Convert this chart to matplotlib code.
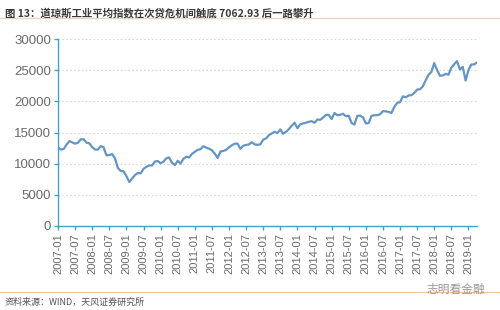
import matplotlib.pyplot as plt
import numpy as np

plt.rcParams['font.family'] = ['Noto Sans CJK SC', 'DejaVu Sans']

# Dow Jones Industrial Average, monthly close, 2007-01 .. 2019-04
djia = [
    12622, 12268, 12354, 13062, 13627, 13408, 13211, 13357, 13895, 13930, 13371, 13264,
    12650, 12266, 12262, 12820, 12638, 11350, 11378, 11543, 10851, 9325, 8829, 8776,
    8001, 7063, 7609, 8168, 8500, 8447, 9172, 9496, 9712, 9713, 10345, 10428,
    10067, 10325, 10857, 11009, 10137, 9774, 10466, 10015, 10788, 11118, 11006, 11578,
    11892, 12226, 12320, 12811, 12570, 12414, 12143, 11614, 10913, 11955, 12046, 12218,
    12633, 12952, 13212, 13214, 12393, 12880, 13009, 13091, 13437, 13096, 13026, 13104,
    13861, 14054, 14579, 14840, 15116, 14910, 15500, 14810, 15130, 15546, 16086, 16577,
    15699, 16322, 16458, 16581, 16717, 16827, 16563, 17098, 17043, 17391, 17828, 17823,
    17165, 18133, 17776, 17841, 18011, 17620, 17690, 16528, 16285, 17664, 17720, 17425,
    16466, 16517, 17685, 17774, 17787, 17930, 18432, 18401, 18308, 18142, 19124, 19763,
    19864, 20812, 20663, 20941, 21009, 21350, 21891, 21948, 22405, 23377, 24272, 24719,
    26149, 25029, 24103, 24163, 24416, 24271, 25415, 25965, 26458, 25116, 25538, 23327,
    24999, 25916, 25929, 26250,
]
start_year = 2007
tick_labels = [f"{start_year + i // 2}-{'01' if i % 2 == 0 else '07'}" for i in range(25)]
y_ticks = [0, 5000, 10000, 15000, 20000, 25000, 30000]

title = "图 13：道琼斯工业平均指数在次贷危机间触底 7062.93 后一路攀升"
source = "资料来源：WIND，天风证券研究所"
watermark = "志明看金融"

line_color = "#6396c6"
axis_color = "#3ea6c0"
text_color = "#6a6a6a"

fig = plt.figure(figsize=(5, 3.1), dpi=100)
ax = fig.add_axes([0.116, 0.271, 0.838, 0.603])

x = np.arange(len(djia))
ax.plot(x, djia, color=line_color, linewidth=1.6)

ax.set_xlim(0, len(djia) - 1)
ax.set_ylim(0, 30000)
ax.set_yticks(y_ticks)
ax.set_yticklabels([str(v) for v in y_ticks], fontsize=9.5, color=text_color,
                   family=['Liberation Sans', 'DejaVu Sans'])
ax.set_xticks(np.arange(0, 25) * 6)
ax.set_xticklabels(tick_labels, rotation=90, fontsize=8, color=text_color,
                   family=['Liberation Sans', 'DejaVu Sans'])

ax.grid(axis='y', linestyle=(0, (1.5, 2)), color='#d8d8d8', linewidth=0.8)
ax.set_axisbelow(True)
for side in ['top', 'right']:
    ax.spines[side].set_visible(False)
for side in ['left', 'bottom']:
    ax.spines[side].set_color(axis_color)
    ax.spines[side].set_linewidth(1.0)
ax.tick_params(axis='both', colors=axis_color, length=3, width=1.0, pad=2)
ax.tick_params(axis='both', labelcolor=text_color)

fig.text(0.01, 0.975, title, fontsize=7.5, fontweight='bold', color='#3a3a3a',
         va='top', ha='left')
fig.add_artist(plt.Line2D([0, 1], [0.943, 0.943], color='#e8d8c0', linewidth=1.0,
                          transform=fig.transFigure))
fig.add_artist(plt.Line2D([0, 1], [0.058, 0.058], color='#e8c8a8', linewidth=0.8,
                          transform=fig.transFigure))
fig.text(0.01, 0.025, source, fontsize=6.5, color='#555555', va='center', ha='left')
fig.text(0.97, 0.068, watermark, fontsize=8.5, color='#999999', va='center', ha='right')

fig.savefig("out.png", dpi=100)
